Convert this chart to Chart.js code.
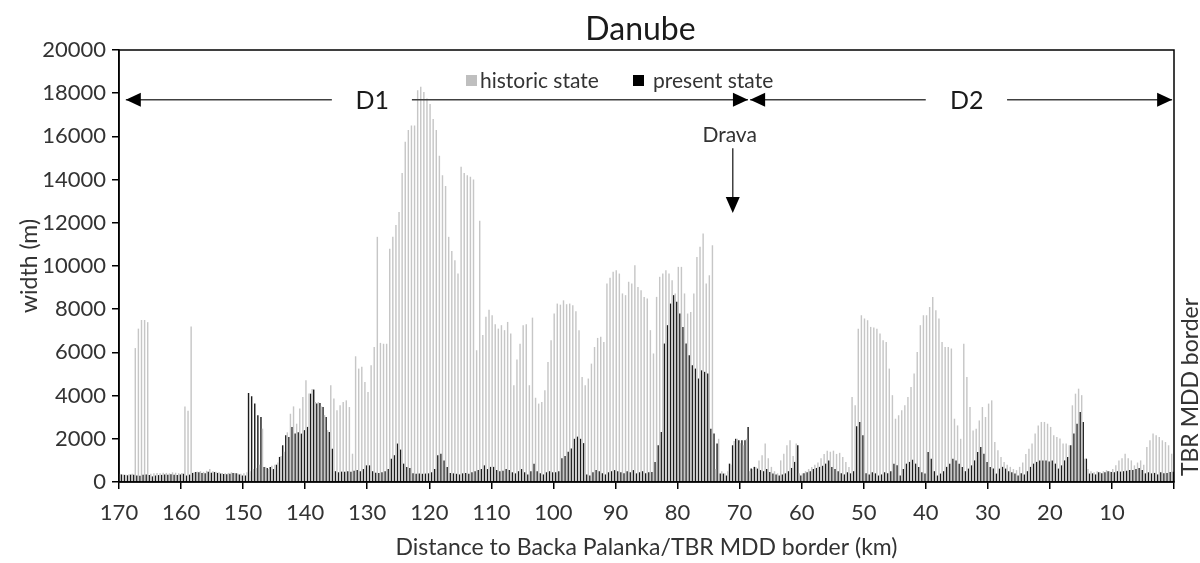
<!DOCTYPE html>
<html><head><meta charset="utf-8">
<script src="https://cdn.jsdelivr.net/npm/chart.js@4.4.1/dist/chart.umd.min.js"></script>
<style>html,body{margin:0;padding:0;background:#fff}#wrap{width:1200px;height:563px}</style>
</head><body><div id="wrap"><canvas id="c" width="1200" height="563"></canvas></div>
<script>
// Distance to Backa Palanka/TBR MDD border (km), centre of each 0.5 km section
const km = [
169.75,169.25,168.75,168.25,167.75,167.25,166.75,166.25,165.75,165.25,164.75,164.25,163.75,163.25,162.75,162.25,161.75,161.25,160.75,160.25,
159.75,159.25,158.75,158.25,157.75,157.25,156.75,156.25,155.75,155.25,154.75,154.25,153.75,153.25,152.75,152.25,151.75,151.25,150.75,150.25,
149.75,149.25,148.75,148.25,147.75,147.25,146.75,146.25,145.75,145.25,144.75,144.25,143.75,143.25,142.75,142.25,141.75,141.25,140.75,140.25,
139.75,139.25,138.75,138.25,137.75,137.25,136.75,136.25,135.75,135.25,134.75,134.25,133.75,133.25,132.75,132.25,131.75,131.25,130.75,130.25,
129.75,129.25,128.75,128.25,127.75,127.25,126.75,126.25,125.75,125.25,124.75,124.25,123.75,123.25,122.75,122.25,121.75,121.25,120.75,120.25,
119.75,119.25,118.75,118.25,117.75,117.25,116.75,116.25,115.75,115.25,114.75,114.25,113.75,113.25,112.75,112.25,111.75,111.25,110.75,110.25,
109.75,109.25,108.75,108.25,107.75,107.25,106.75,106.25,105.75,105.25,104.75,104.25,103.75,103.25,102.75,102.25,101.75,101.25,100.75,100.25,
99.75,99.25,98.75,98.25,97.75,97.25,96.75,96.25,95.75,95.25,94.75,94.25,93.75,93.25,92.75,92.25,91.75,91.25,90.75,90.25,
89.75,89.25,88.75,88.25,87.75,87.25,86.75,86.25,85.75,85.25,84.75,84.25,83.75,83.25,82.75,82.25,81.75,81.25,80.75,80.25,
79.75,79.25,78.75,78.25,77.75,77.25,76.75,76.25,75.75,75.25,74.75,74.25,73.75,73.25,72.75,72.25,71.75,71.25,70.75,70.25,
69.75,69.25,68.75,68.25,67.75,67.25,66.75,66.25,65.75,65.25,64.75,64.25,63.75,63.25,62.75,62.25,61.75,61.25,60.75,60.25,
59.75,59.25,58.75,58.25,57.75,57.25,56.75,56.25,55.75,55.25,54.75,54.25,53.75,53.25,52.75,52.25,51.75,51.25,50.75,50.25,
49.75,49.25,48.75,48.25,47.75,47.25,46.75,46.25,45.75,45.25,44.75,44.25,43.75,43.25,42.75,42.25,41.75,41.25,40.75,40.25,
39.75,39.25,38.75,38.25,37.75,37.25,36.75,36.25,35.75,35.25,34.75,34.25,33.75,33.25,32.75,32.25,31.75,31.25,30.75,30.25,
29.75,29.25,28.75,28.25,27.75,27.25,26.75,26.25,25.75,25.25,24.75,24.25,23.75,23.25,22.75,22.25,21.75,21.25,20.75,20.25,
19.75,19.25,18.75,18.25,17.75,17.25,16.75,16.25,15.75,15.25,14.75,14.25,13.75,13.25,12.75,12.25,11.75,11.25,10.75,10.25,
9.75,9.25,8.75,8.25,7.75,7.25,6.75,6.25,5.75,5.25,4.75,4.25,3.75,3.25,2.75,2.25,1.75,1.25,0.75,0.25
];

// historic state width (m)
const historicState = [
380,350,330,360,380,6200,7100,7500,7500,7400,380,400,420,400,430,420,400,450,430,400,
420,3500,3300,7200,450,480,500,470,520,600,500,480,450,420,400,420,450,420,400,380,
400,450,500,600,650,800,2470,700,600,750,800,900,1200,1400,2300,3160,3500,2700,3400,3940,
4710,4100,4300,3700,3700,3500,3100,2400,4480,3860,3320,3550,3700,3780,3470,1310,5820,5250,5330,4630,
4170,5400,6250,11350,6440,6400,6400,10800,11350,11900,12500,14300,15750,16300,16500,16500,18140,18300,18060,17750,
17500,16800,16300,15100,14200,13700,11350,10700,10270,9650,14600,14300,14200,14130,14000,6100,12100,6800,7650,7980,
7720,7300,7100,7260,7030,7410,6870,4480,5670,6400,7260,7300,4480,7610,3900,3630,3700,4250,5560,6560,
7800,8260,8210,8410,8230,8260,8180,7900,7030,4860,4480,4790,5480,6250,6670,6720,6480,9190,9460,9730,
9800,9650,8730,8650,9270,9190,10040,9030,8880,8570,8490,7030,5950,8570,9500,9650,9800,9650,9340,8730,
9960,9960,8730,7800,7870,8730,10420,10890,11500,9190,9570,10960,600,2000,500,400,500,800,1900,2000,
1800,1700,2000,500,600,700,1000,1240,1780,1100,700,500,400,1000,1310,1700,1930,1200,1780,400,
400,500,600,700,800,900,1100,1300,1450,1400,1450,1300,1350,1160,930,700,3940,3550,7100,7720,
7570,7490,7180,7150,7100,6870,6560,6480,5250,4020,2930,3090,3320,3550,3940,4400,5020,6020,7260,7720,
7720,8100,8570,7950,7570,6480,6250,6250,6180,2930,2620,2000,6400,4860,3470,2390,2470,2850,3470,3010,
3630,3780,1850,1470,1160,930,800,700,600,550,700,900,1300,1540,1780,2240,2620,2780,2780,2700,
2550,2160,2080,2010,1780,1780,1700,3550,4090,4320,4020,1080,600,500,450,500,450,500,550,500,
600,770,1000,1100,1310,1100,1000,770,900,1000,800,1620,1930,2240,2160,2080,1930,1850,1700,1310
];

// present state width (m)
const presentState = [
350,330,310,340,330,300,290,330,350,320,260,300,320,330,350,340,360,330,320,350,
380,300,340,420,460,450,420,400,480,430,460,420,390,370,360,380,420,400,350,300,
300,4120,3970,3630,3090,3010,700,650,700,600,800,1160,1700,2160,2080,2550,2240,2300,2240,2400,
2550,4090,4280,3630,3660,3470,3010,2320,1540,500,450,480,470,500,480,520,550,500,600,770,
770,500,430,420,450,500,600,1080,1240,1780,1500,850,700,650,400,380,390,380,390,400,
450,600,1240,1310,1000,700,420,400,380,350,400,420,380,450,500,550,600,770,600,700,
700,550,500,520,600,550,450,400,500,600,450,350,500,850,500,400,350,450,500,450,
450,500,1100,1200,1400,1550,2000,2100,2000,1800,350,300,450,550,500,400,350,450,500,550,
500,450,400,500,450,550,400,450,500,400,450,460,930,1700,2320,6410,7260,8260,8650,8340,
7800,7180,6410,5870,5400,5250,4790,5170,5100,5020,2470,2240,1780,390,390,300,850,1700,2000,1930,
1930,1930,2550,620,700,620,550,500,600,460,390,350,300,350,400,500,650,930,1700,300,
400,450,500,600,650,700,750,850,1000,700,600,500,400,350,450,400,500,2580,2780,2160,
400,350,450,400,300,350,450,400,500,850,770,300,600,850,930,1030,850,700,450,390,
1390,1080,500,300,390,500,700,850,1080,1000,850,700,500,620,770,1000,1390,1620,1310,930,
700,620,390,620,700,620,500,450,390,300,400,350,500,700,850,930,1000,1000,1000,950,
1000,850,620,770,1000,1160,1700,2240,2700,3240,2780,1080,390,400,350,450,400,450,500,460,
450,500,480,500,520,550,550,600,650,550,400,450,400,420,350,450,400,420,460,480
];

const seriesNames = ['historic state', 'present state'];
const xTicks = [170,160,150,140,130,120,110,100,90,80,70,60,50,40,30,20,10];

const FONT = 'Lato';
const TXT = '#333333';

const annotPlugin = {
  id: 'annot',
  afterDraw(chart) {
    const {ctx, chartArea: a, scales: {x, y}} = chart;
    ctx.save();
    // plot box
    ctx.strokeStyle = '#000'; ctx.lineWidth = 1.5;
    ctx.strokeRect(a.left, a.top, a.right - a.left, a.bottom - a.top);
    // title
    ctx.fillStyle = '#1a1a1a';
    ctx.font = '32px ' + FONT; ctx.textAlign = 'center'; ctx.textBaseline = 'middle';
    ctx.fillText('Danube', (a.left + a.right) / 2 - 6, 30);

    // legend
    ctx.font = '21px ' + FONT; ctx.textAlign = 'left'; ctx.fillStyle = TXT;
    ctx.fillStyle = '#bfbfbf'; ctx.fillRect(466, 75, 11, 11);
    ctx.fillStyle = TXT; ctx.fillText(seriesNames[0], 480, 81);
    ctx.fillStyle = '#000'; ctx.fillRect(633, 75, 11, 11);
    ctx.fillStyle = TXT; ctx.fillText(seriesNames[1], 653, 81);

    // arrows
    const row = y.getPixelForValue(17700);
    const head = (tipX, dir) => {
      ctx.beginPath();
      ctx.moveTo(tipX, row);
      ctx.lineTo(tipX - dir * 15, row - 7);
      ctx.lineTo(tipX - dir * 15, row + 7);
      ctx.closePath(); ctx.fillStyle = '#000'; ctx.fill();
    };
    const seg = (k1, k2) => {
      ctx.beginPath(); ctx.moveTo(x.getPixelForValue(k1), row); ctx.lineTo(x.getPixelForValue(k2), row);
      ctx.strokeStyle = '#404040'; ctx.lineWidth = 1.5; ctx.stroke();
    };
    seg(168.9, 135.7); seg(122.8, 68.65); head(x.getPixelForValue(168.9), -1); head(x.getPixelForValue(68.65), 1);
    seg(68.3, 40.0); seg(26.9, 0.3); head(x.getPixelForValue(68.3), -1); head(x.getPixelForValue(0.3), 1);
    ctx.fillStyle = '#1a1a1a'; ctx.font = '25px ' + FONT; ctx.textAlign = 'center'; ctx.textBaseline = 'middle';
    ctx.fillText('D1', x.getPixelForValue(129.2), row + 1);
    ctx.fillText('D2', x.getPixelForValue(33.4), row + 1);

    // Drava
    ctx.font = '21px ' + FONT; ctx.fillStyle = TXT;
    ctx.fillText('Drava', x.getPixelForValue(71.6), y.getPixelForValue(16050));
    const dx = x.getPixelForValue(71.1);
    const y1 = y.getPixelForValue(15450), y2 = y.getPixelForValue(12450);
    ctx.beginPath(); ctx.moveTo(dx, y1); ctx.lineTo(dx, y2 - 14); ctx.strokeStyle = '#404040'; ctx.lineWidth = 1.5; ctx.stroke();
    ctx.beginPath(); ctx.moveTo(dx, y2); ctx.lineTo(dx - 7, y2 - 16); ctx.lineTo(dx + 7, y2 - 16); ctx.closePath();
    ctx.fillStyle = '#000'; ctx.fill();

    // right side label
    ctx.save();
    ctx.translate(1191, 387); ctx.rotate(-Math.PI / 2);
    ctx.font = '23px ' + FONT; ctx.fillStyle = TXT; ctx.textAlign = 'center'; ctx.textBaseline = 'middle';
    ctx.fillText('TBR MDD border', 0, 0);
    ctx.restore();
    ctx.restore();
  }
};

const toPts = vals => km.map((k, i) => ({x: k, y: vals[i]}));

new Chart(document.getElementById('c'), {
  type: 'bar',
  data: {
    datasets: [
      {label: seriesNames[0], data: toPts(historicState), backgroundColor: '#c6c6c6', categoryPercentage: 1.0, barPercentage: 0.92},
      {label: seriesNames[1], data: toPts(presentState), backgroundColor: '#1c1c1c', categoryPercentage: 1.0, barPercentage: 0.92}
    ]
  },
  options: {
    responsive: false, animation: false, devicePixelRatio: 1,
    layout: {padding: {left: 0, right: 26, top: 50, bottom: 0}},
    plugins: {legend: {display: false}, title: {display: false}, tooltip: {enabled: false}},
    scales: {
      x: {
        type: 'linear', reverse: true, min: 0, max: 170, offset: false,
        afterBuildTicks(s) { s.ticks = [0].concat(xTicks.slice().reverse()).map(v => ({value: v})); },
        ticks: {autoSkip: false, maxRotation: 0, color: TXT, font: {family: FONT, size: 22}, padding: 11,
                callback: v => (xTicks.includes(v) ? String(v) : '')},
        grid: {display: true, drawOnChartArea: false, drawTicks: true, tickLength: 7, color: '#000', lineWidth: 1.5, offset: false},
        border: {display: true, color: '#000', width: 1.5},
        title: {display: true, text: 'Distance to Backa Palanka/TBR MDD border (km)', color: TXT,
                font: {family: FONT, size: 23}, padding: {top: 0, bottom: 2}},
        afterFit(s) { s.height = 81; }
      },
      y: {
        min: 0, max: 20000,
        ticks: {stepSize: 2000, color: TXT, font: {family: FONT, size: 22}, padding: 6, callback: v => String(v)},
        grid: {display: true, drawOnChartArea: false, drawTicks: true, tickLength: 7, color: '#000', lineWidth: 1.5},
        border: {display: true, color: '#000', width: 1.5},
        title: {display: true, text: 'width (m)', color: TXT, font: {family: FONT, size: 23}, padding: {top: 16, bottom: 0}},
        afterFit(s) { s.width = 119; }
      }
    }
  },
  plugins: [annotPlugin]
});
</script></body></html>
